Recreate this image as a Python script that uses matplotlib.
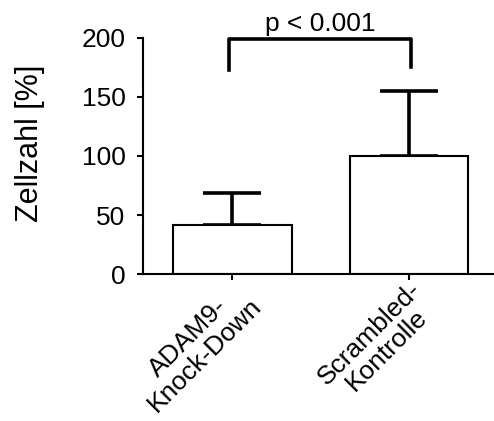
import matplotlib.pyplot as plt

plt.rcParams['font.family'] = ['Liberation Sans', 'DejaVu Sans']

# data
categories = ["ADAM9-\nKnock-Down", "Scrambled-\nKontrolle"]
means = [41.5, 100.0]
errors = [27.5, 55.0]
p_text = "p < 0.001"
bracket_y = 199
bracket_legs = [173, 175]

fig = plt.figure(figsize=(4.94, 4.21), dpi=100)
ax = fig.add_axes([0.2895, 0.349, 0.7105, 0.561])

pos = list(range(len(categories)))
ax.bar(pos, means, width=0.67, color='white', edgecolor='black', linewidth=1.5, zorder=2)
ax.errorbar(pos, means, yerr=[[0] * len(errors), errors], fmt='none', ecolor='black',
            elinewidth=2.6, capsize=21, capthick=2.6, zorder=1)

# significance bracket
x1, x2 = pos[0] - 0.02, pos[1] + 0.01
ax.plot([x1, x1, x2, x2], [bracket_legs[0], bracket_y, bracket_y, bracket_legs[1]],
        color='black', linewidth=2.6, clip_on=False)
ax.text((x1 + x2) / 2, bracket_y + 3, p_text, ha='center', va='bottom', fontsize=19)

ax.set_xlim(-0.506, 1.48)
ax.set_ylim(0, 200)
ax.set_yticks([0, 50, 100, 150, 200])
ax.set_xticks(pos)
ax.set_xticklabels(categories, rotation=45, ha='right', rotation_mode='anchor',
                   multialignment='center', fontsize=19, linespacing=1.0)
ax.tick_params(axis='y', labelsize=19, width=1.5, length=4.5, pad=8)
ax.tick_params(axis='x', width=1.5, length=4, pad=-2)
ax.set_ylabel("Zellzahl [%]", fontsize=22)
ax.yaxis.set_label_coords(-0.28, 0.555)

for s in ['top', 'right']:
    ax.spines[s].set_visible(False)
for s in ['left', 'bottom']:
    ax.spines[s].set_linewidth(1.5)

fig.savefig("out.png", dpi=100)
